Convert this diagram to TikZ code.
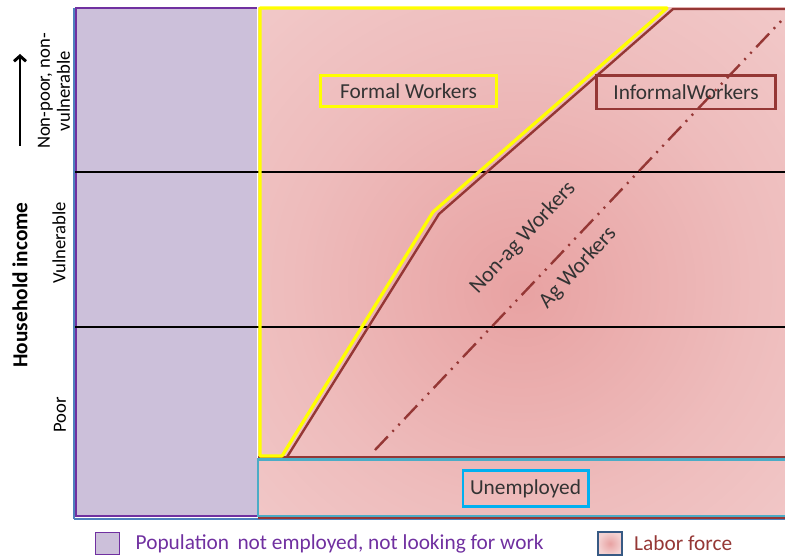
\documentclass[tikz,border=0pt]{standalone}
\usepackage{fontspec}
\setmainfont{Carlito}
\usetikzlibrary{positioning,arrows.meta}

\definecolor{inactline}{HTML}{7030A0}
\definecolor{inactfill}{HTML}{CCC0DA}
\definecolor{informal}{HTML}{953735}
\definecolor{formal}{HTML}{FFFF00}
\definecolor{unempline}{HTML}{4BACC6}
\definecolor{unempbox}{HTML}{00B0F0}
\definecolor{labin}{HTML}{E8A2A2}
\definecolor{labmid}{HTML}{EEBCBC}
\definecolor{labedge}{HTML}{F4D2D2}
\definecolor{labout}{HTML}{F6DEDE}
\definecolor{frame}{HTML}{4F81BD}

\pgfdeclareradialshading{laborshade}{\pgfpoint{0bp}{-3bp}}{%
  color(0bp)=(labin); color(22bp)=(labmid); color(48bp)=(labedge); color(72bp)=(labout)}

\tikzset{
  labbox/.style={draw=#1, line width=2pt, inner ysep=0pt, text=black!80, font=\fontsize{16}{18}\selectfont},
  splitlabel/.style={rotate=47, text=black!80, font=\fontsize{16.5}{18}\selectfont},
  sidelabel/.style={rotate=90, align=center, font=\fontsize{14}{15}\selectfont},
  level/.style={black, line width=0.8pt},
  legendbox/.style={draw=#1, line width=1.2pt, minimum width=18pt, minimum height=16.5pt, inner sep=0pt},
  legendtext/.style={font=\fontsize{16}{18}\selectfont}
}

\begin{document}
\begin{tikzpicture}[x=0.75pt,y=-0.75pt]
  \useasboundingbox (0,0) rectangle (785,556);

  % chart frame
  \draw[frame, line width=0.8pt] (74,519) -- (785,519);
  \draw[frame, line width=0.8pt] (74,8) -- (74,519);

  % population not in labor force
  \fill[inactfill] (75,8) rectangle (257,517);
  \draw[inactline, line width=2pt] (257,8) -- (76,8) -- (76,516) -- (257,516);

  % labor force
  \shade[shading=laborshade] (258,8) rectangle (785,517);

  % income levels
  \draw[level] (75,172) -- (785,172);
  \draw[level] (75,327) -- (785,327);

  % unemployed
  \draw[unempline, line width=1.6pt] (785,459.5) -- (258,459.5) -- (258,516) -- (785,516);
  \draw[informal, line width=1.2pt] (258,518) -- (785,518);

  % informal workers
  \draw[informal, line width=1.8pt, line join=round]
    (287,457) -- (439,214) -- (673,9) -- (785,9);
  \draw[informal, line width=1.8pt] (258,457) -- (785,457);

  % formal workers
  \draw[formal, line width=2.4pt, line join=round]
    (282,456) -- (433,212) -- (667,8) -- (260,8) -- (260,456) -- cycle;

  % ag / non-ag split
  \draw[informal, line width=1.8pt, dash pattern=on 14pt off 5pt on 1.5pt off 5pt on 1.5pt off 5pt]
    (375,450) -- (782,20);

  % labels
  \node[labbox=formal, minimum width=132pt, minimum height=23pt] (fw) at (408.5,91) {Formal Workers};
  \node[labbox=informal, minimum width=134pt, minimum height=25pt] (iw) at (686,92.5) {InformalWorkers};
  \node[labbox=unempbox, minimum width=94pt, minimum height=27pt] (un) at (525.5,488.5) {Unemployed};
  \node[splitlabel] (nonag) at (523,238) {Non-ag Workers};
  \node[splitlabel] (ag) at (578,268) {Ag Workers};

  % income axis
  \node[rotate=90, font=\bfseries\fontsize{16}{18}\selectfont] (inc) at (20,285) {Household income};
  \coordinate (arrtop) at (20,54);
  \coordinate (arrbot) at (20,146);
  \draw[-{Straight Barb[length=4pt,width=9pt]}, line width=2.2pt] (arrbot) -- (arrtop);
  \node[sidelabel] (np) at (54,91) {Non-poor, non-\\vulnerable};
  \node[sidelabel] (vu) at (59,243) {Vulnerable};
  \node[sidelabel] (po) at (60,415) {Poor};

  % legend
  \node[legendbox=inactline, fill=inactfill] (lg1) at (107.5,543.5) {};
  \node[right=8pt of lg1, inactline, legendtext] (lt1) {Population\, not employed, not looking for work};
  \shade[inner color=labin, outer color=labedge] (598,532) rectangle (622,555);
  \node[legendbox=frame!70!black, minimum height=17pt] (lg2) at (610,543.5) {};
  \node[right=5pt of lg2, informal, legendtext] (lt2) {Labor force};
\end{tikzpicture}
\end{document}
